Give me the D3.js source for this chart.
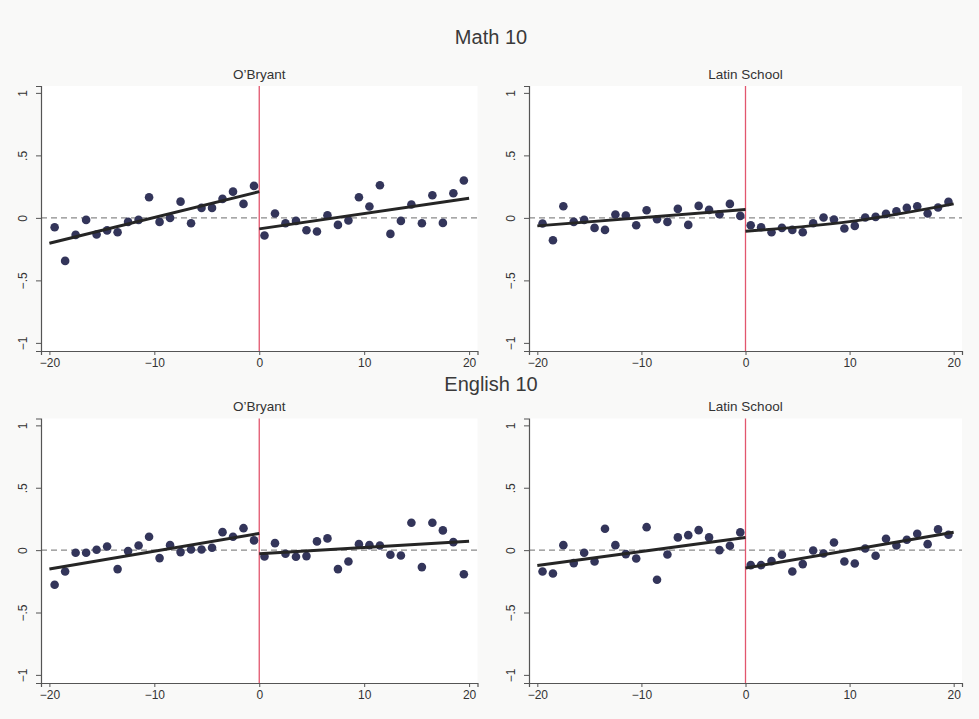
<!DOCTYPE html>
<html>
<head>
<meta charset="utf-8">
<script src="https://cdn.jsdelivr.net/npm/d3@7"></script>
<style>
  html, body { margin: 0; padding: 0; background: #f9f9f8; }
  svg { display: block; font-family: "Liberation Sans", Arial, sans-serif; }
</style>
</head>
<body>
<div id="chart"></div>
<script>
// bins: half-integer distance from the cutoff
var binsLeft = [-19.5, -18.5, -17.5, -16.5, -15.5, -14.5, -13.5, -12.5, -11.5, -10.5,
                -9.5, -8.5, -7.5, -6.5, -5.5, -4.5, -3.5, -2.5, -1.5, -0.5];
var binsRight = [0.5, 1.5, 2.5, 3.5, 4.5, 5.5, 6.5, 7.5, 8.5, 9.5,
                 10.5, 11.5, 12.5, 13.5, 14.5, 15.5, 16.5, 17.5, 18.5, 19.5];

var xTicks = [-20, -10, 0, 10, 20];
var yTicks = [-1, -0.5, 0, 0.5, 1];
var yTickLabels = ['-1', '-.5', '0', '.5', '1'];

var groupTitles = ['Math 10', 'English 10'];
var schools = ['O\u2019Bryant', 'Latin School'];

// Math 10, O'Bryant
var mathOBLeft = [-0.075, -0.344, -0.136, -0.016, -0.133, -0.10, -0.115, -0.032, -0.016, 0.165,
                  -0.032, 0.0, 0.13, -0.043, 0.08, 0.08, 0.152, 0.21, 0.112, 0.256];
var mathOBRight = [-0.141, 0.035, -0.043, -0.024, -0.099, -0.109, 0.021, -0.056, -0.021, 0.165,
                   0.091, 0.261, -0.128, -0.024, 0.107, -0.043, 0.181, -0.04, 0.197, 0.299];
// Math 10, Latin School
var mathLSLeft = [-0.045, -0.179, 0.093, -0.032, -0.016, -0.08, -0.096, 0.027, 0.019, -0.059,
                  0.061, -0.011, -0.032, 0.072, -0.056, 0.096, 0.064, 0.029, 0.112, 0.016];
var mathLSRight = [-0.059, -0.075, -0.115, -0.08, -0.096, -0.115, -0.043, 0.003, -0.013, -0.085,
                   -0.064, 0.003, 0.008, 0.032, 0.053, 0.08, 0.093, 0.035, 0.083, 0.128];
// English 10, O'Bryant
var engOBLeft = [-0.278, -0.171, -0.021, -0.021, 0.003, 0.029, -0.152, -0.008, 0.037, 0.107,
                 -0.064, 0.04, -0.016, 0.005, 0.005, 0.019, 0.144, 0.107, 0.176, 0.078];
var engOBRight = [-0.051, 0.056, -0.029, -0.053, -0.048, 0.07, 0.094, -0.152, -0.091, 0.048,
                  0.04, 0.037, -0.037, -0.043, 0.219, -0.136, 0.219, 0.158, 0.064, -0.193];
// English 10, Latin School
var engLSLeft = [-0.171, -0.187, 0.04, -0.104, -0.021, -0.091, 0.171, 0.04, -0.032, -0.067,
                 0.184, -0.238, -0.035, 0.102, 0.12, 0.16, 0.102, 0.0, 0.035, 0.142];
var engLSRight = [-0.12, -0.12, -0.088, -0.037, -0.171, -0.112, -0.003, -0.027, 0.061, -0.091,
                  -0.107, 0.013, -0.045, 0.091, 0.037, 0.083, 0.131, 0.048, 0.166, 0.123];

// fitted lines: x positions and fitted values
var fitXLeft = [-20, 0];
var fitXRight = [0, 20];
var fitXRight3 = [0, 10, 20];
var mathOBFitLeft = [-0.203, 0.21];
var mathOBFitRight = [-0.088, 0.157];
var mathLSFitLeft = [-0.064, 0.067];
var mathLSFitRight = [-0.107, -0.03, 0.112];
var engOBFitLeft = [-0.152, 0.134];
var engOBFitRight = [-0.029, 0.072];
var engLSFitLeft = [-0.123, 0.102];
var engLSFitRight = [-0.144, 0.144];

var panels = [
  {row: 0, col: 0, left: mathOBLeft, right: mathOBRight, fitL: [fitXLeft, mathOBFitLeft], fitR: [fitXRight, mathOBFitRight]},
  {row: 0, col: 1, left: mathLSLeft, right: mathLSRight, fitL: [fitXLeft, mathLSFitLeft], fitR: [fitXRight3, mathLSFitRight]},
  {row: 1, col: 0, left: engOBLeft, right: engOBRight, fitL: [fitXLeft, engOBFitLeft], fitR: [fitXRight, engOBFitRight]},
  {row: 1, col: 1, left: engLSLeft, right: engLSRight, fitL: [fitXLeft, engLSFitLeft], fitR: [fitXRight, engLSFitRight]}
];

var W = 979, H = 719;
var colLeft = [41, 529], colRight = [477.5, 962];
var rowTop = [86, 418.5], rowBottom = [351, 683];
var rowTitleY = [44, 391], subTitleY = [79, 411];

var svg = d3.select('#chart').append('svg')
    .attr('width', W)
    .attr('height', H);

svg.append('rect').attr('width', W).attr('height', H).attr('fill', '#f9f9f8');

groupTitles.forEach(function(t, i) {
  svg.append('text')
      .attr('x', 491)
      .attr('y', rowTitleY[i])
      .attr('text-anchor', 'middle')
      .attr('font-size', 20)
      .attr('fill', '#3a3a3a')
      .text(t);
});

var line = d3.line().curve(d3.curveMonotoneX);

panels.forEach(function(p) {
  var x = d3.scaleLinear().domain([-20.8, 20.8]).range([colLeft[p.col], colRight[p.col]]);
  var y = d3.scaleLinear().domain([-1.065, 1.055]).range([rowBottom[p.row], rowTop[p.row]]);
  var g = svg.append('g');

  g.append('rect')
      .attr('x', x.range()[0]).attr('y', y.range()[1])
      .attr('width', x.range()[1] - x.range()[0])
      .attr('height', y.range()[0] - y.range()[1])
      .attr('fill', '#ffffff');

  g.append('text')
      .attr('x', x(0))
      .attr('y', subTitleY[p.row])
      .attr('text-anchor', 'middle')
      .attr('font-size', 13.5)
      .attr('fill', '#333')
      .text(schools[p.col]);

  // dashed zero reference
  g.append('line')
      .attr('x1', x.range()[0]).attr('x2', x.range()[1])
      .attr('y1', y(0)).attr('y2', y(0))
      .attr('stroke', '#8a8a8a')
      .attr('stroke-width', 1.1)
      .attr('stroke-dasharray', '6,4');

  // cutoff
  g.append('line')
      .attr('x1', x(0)).attr('x2', x(0))
      .attr('y1', y.range()[1]).attr('y2', y.range()[0])
      .attr('stroke', '#e2566e')
      .attr('stroke-width', 1.3);

  var pts = binsLeft.map(function(b, i) { return [b, p.left[i]]; })
      .concat(binsRight.map(function(b, i) { return [b, p.right[i]]; }));

  g.selectAll('circle.pt')
      .data(pts)
      .enter().append('circle')
      .attr('class', 'pt')
      .attr('cx', function(d) { return x(d[0]); })
      .attr('cy', function(d) { return y(d[1]); })
      .attr('r', 4.3)
      .attr('fill', '#33355a');

  [p.fitL, p.fitR].forEach(function(f) {
    var coords = f[0].map(function(v, i) { return [x(v), y(f[1][i])]; });
    g.append('path')
        .attr('d', line(coords))
        .attr('fill', 'none')
        .attr('stroke', '#252525')
        .attr('stroke-width', 3);
  });

  // axes
  var xAxis = d3.axisBottom(x).tickValues(xTicks).tickSize(4).tickPadding(3)
      .tickFormat(function(d) { return d < 0 ? '\u2212' + Math.abs(d) : d; });
  var gx = g.append('g')
      .attr('transform', 'translate(0,' + y.range()[0] + ')')
      .call(xAxis);
  gx.select('.domain').attr('stroke', '#555').attr('stroke-width', 1.2);
  gx.selectAll('.tick line').attr('stroke', '#555');
  gx.selectAll('.tick text').attr('font-size', 12).attr('fill', '#333');

  var yAxis = d3.axisLeft(y).tickValues(yTicks).tickSize(5).tickPadding(6)
      .tickFormat(function(d, i) { return yTickLabels[i].replace('-', '\u2212'); });
  var gy = g.append('g')
      .attr('transform', 'translate(' + x.range()[0] + ',0)')
      .call(yAxis);
  gy.select('.domain').attr('stroke', '#555').attr('stroke-width', 1.2);
  gy.selectAll('.tick line').attr('stroke', '#555');
  gy.selectAll('.tick text')
      .attr('font-size', 12).attr('fill', '#333')
      .attr('text-anchor', 'middle')
      .attr('dy', 0)
      .attr('transform', 'translate(-14,0) rotate(-90)')
      .attr('x', 0).attr('y', 0);
});
</script>
</body>
</html>
